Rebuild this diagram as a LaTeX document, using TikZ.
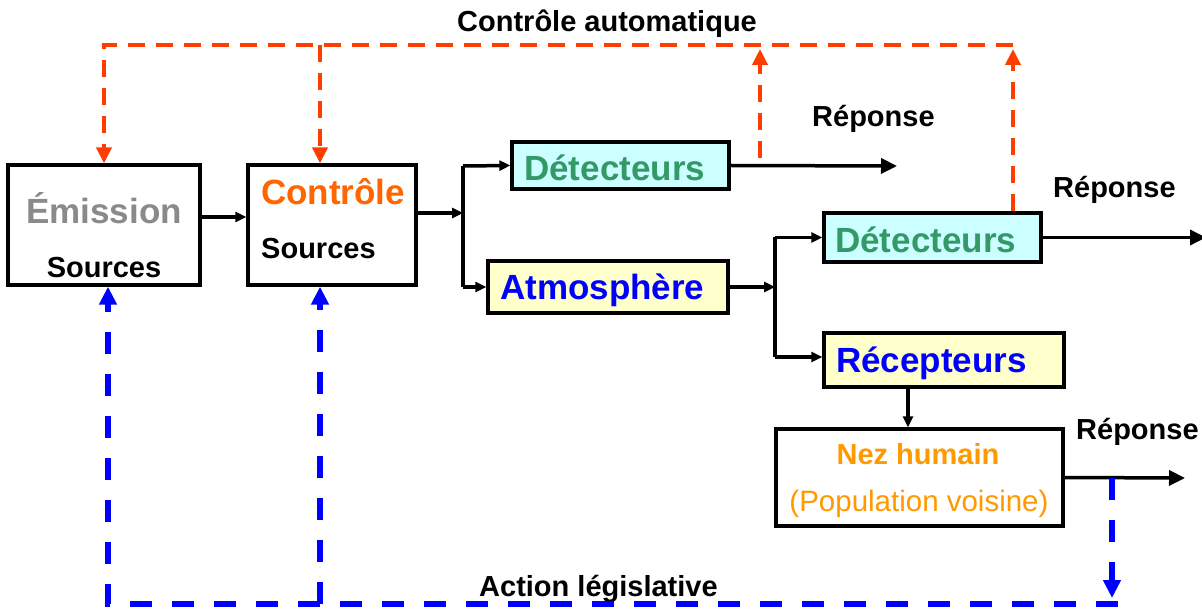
\documentclass[tikz,border=0pt]{standalone}
\usepackage{fontspec}
\setmainfont{Liberation Sans}
\usetikzlibrary{arrows.meta,calc}
\definecolor{emgray}{HTML}{8A8A8A}
\definecolor{ctlorange}{HTML}{FF6600}
\definecolor{detgreen}{HTML}{339966}
\definecolor{txtblue}{HTML}{0000FF}
\definecolor{cyanfill}{HTML}{CCFFFF}
\definecolor{yelfill}{HTML}{FFFFCC}
\definecolor{redctl}{HTML}{FF3D00}
\definecolor{nezorange}{HTML}{FF9900}
\definecolor{bluelaw}{HTML}{0000FF}
\tikzset{
  box/.style={draw=black, line width=3.3pt, inner sep=0pt},
  bigtxt/.style={inner sep=0pt, font=\fontsize{35}{41}\selectfont\bfseries},
  labtxt/.style={inner sep=0pt, font=\fontsize{29}{34}\selectfont\bfseries},
  regtxt/.style={inner sep=0pt, font=\fontsize{29.5}{34}\selectfont},
  conn/.style={draw=black, line width=3.5pt},
  smallhead/.style={-{Triangle[length=11pt,width=10pt]}},
  bighead/.style={-{Triangle[length=16pt,width=15pt]}},
  redline/.style={draw=redctl, line width=4pt, dash pattern=on 17pt off 11pt},
  redhead/.style={-{Triangle[length=16pt,width=15pt]}},
  blueline/.style={draw=bluelaw, line width=5.5pt, dash pattern=on 22pt off 20pt},
  bluehead/.style={-{Triangle[length=18pt,width=17pt]}},
}
\begin{document}
\begin{tikzpicture}[x=1pt,y=-1pt]
\useasboundingbox[fill=white] (0,0) rectangle (1202,609);

% boxes
\node[box, minimum width=192pt, minimum height=120pt] (em) at (104,225) {};
\node[box, minimum width=168pt, minimum height=120pt] (con) at (332,225) {};
\node[box, fill=cyanfill, minimum width=217pt, minimum height=47pt] (det1) at (620.5,165.5) {};
\node[box, fill=yelfill, minimum width=240pt, minimum height=52pt] (atm) at (608,287) {};
\node[box, fill=cyanfill, minimum width=217pt, minimum height=49pt] (det2) at (932.5,237.5) {};
\node[box, fill=yelfill, minimum width=240pt, minimum height=54pt] (rec) at (944,360) {};
\node[box, minimum width=287pt, minimum height=97pt] (nez) at (919.5,477.5) {};

% box texts
\node[bigtxt, text=emgray, anchor=base] (emT) at (104,224) {Émission};
\node[labtxt, anchor=base] (emS) at (104,278) {Sources};
\node[bigtxt, text=ctlorange, anchor=base west] (conT) at (261,205) {Contrôle};
\node[labtxt, anchor=base west] (conS) at (261,259) {Sources};
\node[bigtxt, text=detgreen, anchor=base west] (det1T) at (524,181) {Détecteurs};
\node[bigtxt, text=txtblue, anchor=base west] (atmT) at (500,300) {Atmosphère};
\node[bigtxt, text=detgreen, anchor=base west] (det2T) at (835,253) {Détecteurs};
\node[bigtxt, text=txtblue, anchor=base west] (recT) at (836,373) {Récepteurs};
\node[labtxt, text=nezorange, anchor=base] (nezT) at (918,464) {Nez humain};
\node[regtxt, text=nezorange, anchor=base] (nezP) at (919,511) {(Population voisine)};

% free labels
\node[labtxt, anchor=base west] (ctlauto) at (457,32) {Contrôle automatique};
\node[labtxt, anchor=base west] (rep1) at (812,127) {Réponse};
\node[labtxt, anchor=base west] (rep2) at (1053,198) {Réponse};
\node[labtxt, anchor=base west] (rep3) at (1076,439) {Réponse};
\node[labtxt, anchor=base west] (action) at (479,596) {Action législative};

% coordinates
\coordinate (b1) at (463,213);
\coordinate (b1t) at (463,166);
\coordinate (b1b) at (463,287);
\coordinate (b2) at (775,287);
\coordinate (b2t) at (775,237.5);
\coordinate (b2b) at (775,357);
\coordinate (r1) at (897,166);
\coordinate (r2) at (1206,237.5);
\coordinate (r3) at (1185,478);
\coordinate (nd) at (908,0);

% black connectors
\draw[conn, smallhead] ([yshift=8pt]em.east) -- ([yshift=8pt]con.west);
\draw[conn, smallhead] ([yshift=12pt]con.east) -- (b1);
\draw[conn] (b1t) -- (b1b);
\draw[conn, smallhead] (b1t) -- (det1.west);
\draw[conn, smallhead] (b1b) -- (atm.west);
\draw[conn, smallhead] (atm.east) -- (b2);
\draw[conn] (b2t) -- (b2b);
\draw[conn, smallhead] (b2t) -- (det2.west);
\draw[conn, smallhead] (b2b) -- (b2b -| rec.west);
\draw[conn, bighead] (det1.east) -- (r1);
\draw[conn, bighead] (det2.east) -- (r2);
\draw[conn, smallhead] (nd |- rec.south) -- (nd |- nez.north);
\draw[conn, bighead] (nez.east) -- (r3);

% red automatic control
\coordinate (ra) at (760,158);
\coordinate (rat) at (760,49);
\coordinate (rb) at (1013,0);
\coordinate (rtop) at (1013,45);
\coordinate (rl) at (104,45);
\coordinate (rm) at (320,45);
\draw[redline, redhead] (ra) -- (rat);
\draw[redline, redhead] (rb |- det2.north) -- (rb |- rat);
\draw[redline, redhead] (rtop) -- (rl) -- (em.north);
\draw[redline, redhead] (rm) -- (rm |- con.north);

% blue legislative action
\coordinate (bl) at (1112,478);
\coordinate (blb) at (1112,598);
\coordinate (bbr) at (1118,604);
\coordinate (bbl) at (108,604);
\coordinate (bbm) at (320,604);
\draw[blueline, bluehead] (bl) -- (blb);
\draw[blueline, bluehead] (bbr) -- (bbl) -- (bbl |- em.south);
\draw[blueline, bluehead] (bbm) -- (bbm |- con.south);
\end{tikzpicture}
\end{document}
